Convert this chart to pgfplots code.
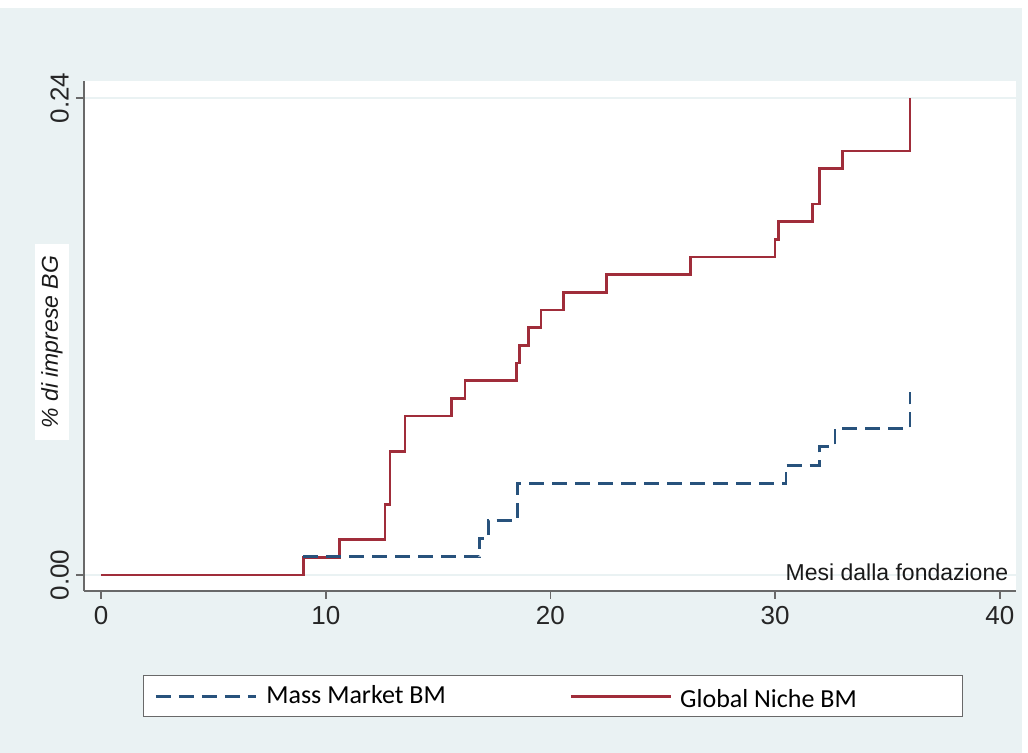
\documentclass[border=0pt]{standalone}
\usepackage{fontspec}
\setmainfont{Liberation Sans}
\newfontfamily\calfont{Carlito}
\usepackage{pgfplots}
\pgfplotsset{compat=1.18}
\definecolor{bg}{RGB}{234,242,243}
\definecolor{axgray}{RGB}{105,105,105}
\definecolor{gnred}{RGB}{160,45,58}
\definecolor{mmblue}{RGB}{40,82,124}
\begin{document}
\begin{tikzpicture}
\path (0,0) rectangle (514pt,376.5pt);
\fill[bg] (0,0) rectangle (511pt,372.5pt);
\begin{axis}[
  at={(42pt,81pt)}, anchor=south west,
  scale only axis, width=466pt, height=255pt,
  xmin=-0.76, xmax=40.72, ymin=-0.00805, ymax=0.2486,
  axis x line*=bottom, axis y line*=left,
  axis line style={draw=axgray, line width=0.8pt},
  axis background/.style={fill=white},
  xtick={0,10,20,30,40}, xticklabels={0,10,20,30,40},
  ytick={0,0.24}, yticklabels={0.00,0.24},
  /pgf/number format/assume math mode=true,
  tick align=outside, major tick length=4pt,
  tick style={draw=axgray, line width=0.8pt},
  ymajorgrids, grid style={draw=bg, line width=0.8pt},
  ticklabel style={font=\fontsize{13}{13}\selectfont, text=black!85},
  yticklabel style={rotate=90, anchor=south},
  xlabel={Mesi dalla fondazione},
  xlabel style={at={(axis description cs:0.992,0.02)}, anchor=south east, inner sep=0pt, font=\fontsize{11.5}{11.5}\selectfont, text=black!90},
  ylabel={\itshape \% di imprese BG},
  ylabel style={at={(axis description cs:-0.0343,0.488)}, anchor=center, fill=white, inner xsep=6pt, inner ysep=3pt, font=\fontsize{11.5}{11.5}\selectfont, text=black!90},
  legend columns=2, reverse legend,
  legend style={at={(axis description cs:0.0633,-0.1647)}, anchor=north west,
    draw=axgray, line width=0.6pt, fill=white, inner xsep=5.5pt, inner ysep=5pt,
    font=\calfont\fontsize{13}{13}\selectfont, nodes={inner sep=0pt}},
  legend image code/.code={\draw[#1] (0pt,0pt) -- (50pt,0pt);},
]
\addplot[const plot, gnred, line width=1.4pt] coordinates {
(0,0) (9,0.00889) (10.6,0.01778) (12.64,0.03556) (12.86,0.06222) (13.53,0.08)
(15.6,0.08889) (16.2,0.09778) (18.5,0.10667) (18.64,0.11556) (19.01,0.12444)
(19.58,0.13333) (20.57,0.14222) (22.5,0.15111) (26.24,0.16) (29.99,0.16889)
(30.14,0.17778) (31.66,0.18667) (31.99,0.20444) (33.0,0.21333) (36.0,0.24)
};
\addlegendentry{\makebox[139.5pt][l]{\hspace{4pt}\raisebox{-3.5pt}{Global Niche BM}}}
\addplot[const plot, mmblue, line width=1.4pt, dash pattern=on 7.5pt off 4pt] coordinates {
(9,0.0092) (16.83,0.0184) (17.23,0.0276) (18.52,0.046) (30.48,0.0553)
(31.99,0.0645) (32.66,0.0737) (36.0,0.092)
};
\addlegendentry{\makebox[156pt][l]{\hspace{4.5pt}Mass Market BM}}
\end{axis}
\end{tikzpicture}
\end{document}
